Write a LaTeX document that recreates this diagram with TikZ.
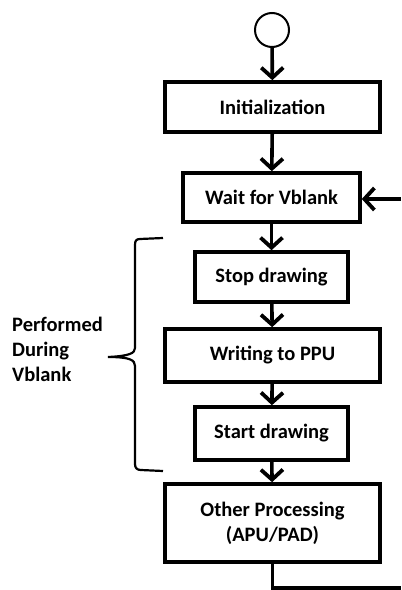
\documentclass[tikz,border=0pt]{standalone}
\usepackage{fontspec}
\setmainfont{Carlito}
\usetikzlibrary{arrows.meta}
\begin{document}
\begin{tikzpicture}[x=1bp,y=-1bp,
  box/.style={draw, line width=3.6bp, inner sep=0pt, font=\fontsize{20.5bp}{25bp}\selectfont\bfseries, align=center},
  flow/.style={line width=3.6bp, -{Straight Barb[length=10bp,width=22bp,line width=3.8bp]}},
  conn/.style={line width=3.6bp}]
\useasboundingbox (0,0) rectangle (401,590);
\node[draw, circle, line width=2bp, minimum size=34bp, inner sep=0pt] (start) at (272,30) {};
\node[box, minimum width=215bp, minimum height=50bp] (init) at (272.5,107) {Initialization};
\node[box, minimum width=177bp, minimum height=49bp] (wait) at (271.5,197.5) {Wait for Vblank};
\node[box, minimum width=153bp, minimum height=50bp] (stop) at (271.5,277) {Stop drawing};
\node[box, minimum width=215bp, minimum height=53bp] (write) at (272.5,355.5) {Writing to PPU};
\node[box, minimum width=153bp, minimum height=53bp] (sdraw) at (271.5,433.5) {Start drawing};
\node[box, minimum width=215bp, minimum height=78bp] (other) at (272.5,523) {Other Processing\\(APU/PAD)};
\coordinate (rin) at (401,199);
\coordinate (bend) at (272.5,588);
\coordinate (rout) at (401,588);
\draw[flow] (start) -- (init);
\draw[flow] (init) -- (wait);
\draw[flow] (wait) -- (stop);
\draw[flow] (stop) -- (write);
\draw[flow] (write) -- (sdraw);
\draw[flow] (sdraw) -- (other);
\draw[flow] (rin) -- (rin -| wait.east);
\draw[conn] (other.south) -- (bend) -- (rout);
% brace
\draw[line width=2.2bp, line join=round]
  (163,238) -- (140,239) .. controls (136,239) and (135,241) .. (135,245)
  -- (135,348) .. controls (135,353) and (130,356) .. (108,357)
  (108,357) .. controls (130,357) and (135,360) .. (135,366)
  -- (135,464) .. controls (135,468) and (137,470) .. (141,470) -- (163,471);
\node[anchor=north west, align=left, inner sep=0pt, font=\fontsize{20.5bp}{25bp}\selectfont\bfseries] (lbl) at (12,317) {Performed\\During\\Vblank};
\end{tikzpicture}
\end{document}
